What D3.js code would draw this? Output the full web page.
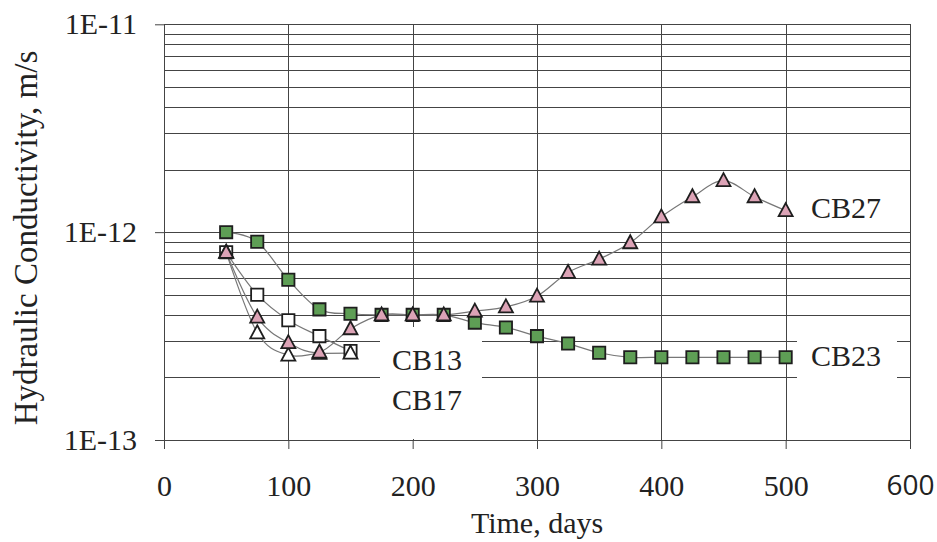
<!DOCTYPE html>
<html>
<head>
<meta charset="utf-8">
<script src="https://cdn.jsdelivr.net/npm/d3@7/dist/d3.min.js"></script>
<style>
  html, body { margin: 0; padding: 0; background: #ffffff; }
  svg { display: block; }
  text { font-family: "Liberation Serif", "Times New Roman", serif; fill: #222222; }
</style>
</head>
<body>
<svg id="chart" width="937" height="542"></svg>
<script>
// Hydraulic conductivity (in units of 1E-12 m/s) against time in days
const unit = 1e-12;
const daysLong = [50, 75, 100, 125, 150, 175, 200, 225, 250, 275, 300, 325, 350, 375, 400, 425, 450, 475, 500];
const daysShort = [50, 75, 100, 125, 150];
const cb23 = [1.0, 0.9, 0.59, 0.425, 0.405, 0.40, 0.40, 0.40, 0.367, 0.348, 0.316, 0.291, 0.263, 0.25, 0.25, 0.25, 0.25, 0.25, 0.25];
const cb27 = [0.8, 0.39, 0.294, 0.265, 0.343, 0.40, 0.40, 0.40, 0.417, 0.437, 0.492, 0.64, 0.742, 0.889, 1.185, 1.48, 1.77, 1.48, 1.27];
const cb13 = [0.8, 0.5, 0.377, 0.316, 0.268];
const cb17 = [0.8, 0.328, 0.256, 0.261, 0.262];

const xTicks = [0, 100, 200, 300, 400, 500, 600];
const yTicks = [1e-13, 1e-12, 1e-11];
const yTickLabels = ["1E-13", "1E-12", "1E-11"];

const svg = d3.select("#chart");
const x = d3.scaleLinear().domain([0, 600]).range([164, 910]);
const y = d3.scaleLog().domain([1e-13, 1e-11]).range([440, 24.3]);

const gridColor = "#444444";

// horizontal grid: every 1..9 multiple in each decade
const grid = svg.append("g").attr("shape-rendering", "crispEdges");
grid.selectAll("line.h")
  .data(y.ticks())
  .join("line")
  .attr("class", "h")
  .attr("x1", x(0)).attr("x2", x(600))
  .attr("y1", d => Math.round(y(d)) + 0.5).attr("y2", d => Math.round(y(d)) + 0.5)
  .attr("stroke", gridColor).attr("stroke-width", 1);

// vertical grid
grid.selectAll("line.v")
  .data(xTicks.slice(1))
  .join("line")
  .attr("class", "v")
  .attr("x1", d => Math.round(x(d)) + 0.5).attr("x2", d => Math.round(x(d)) + 0.5)
  .attr("y1", y(1e-11)).attr("y2", y(1e-13))
  .attr("stroke", gridColor).attr("stroke-width", 1);

// white panels behind the series names
const panels = [
  { x0: 380, x1: 482, y0: 327, y1: 439 },
  { x0: 797, x1: 897, y0: 330, y1: 395 }
];
svg.append("g").selectAll("rect")
  .data(panels)
  .join("rect")
  .attr("x", d => d.x0).attr("y", d => d.y0)
  .attr("width", d => d.x1 - d.x0).attr("height", d => d.y1 - d.y0)
  .attr("fill", "#ffffff");

// axes
const xAxis = d3.axisBottom(x).tickValues(xTicks).tickSize(9).tickPadding(26).tickFormat(d3.format("d"));
const gx = svg.append("g").attr("transform", `translate(0,${y(1e-13)})`).call(xAxis);
gx.select(".domain").attr("stroke", gridColor).attr("d", `M${x(0)},0.5H${x(600)}`);
gx.selectAll(".tick line").attr("stroke", gridColor);
gx.selectAll(".tick text")
  .style("font-family", d => d === 600 ? "'Open Sans', sans-serif" : null)
  .attr("font-size", d => d === 600 ? 28 : 30)
  .attr("fill", "#222222");

const yAxis = d3.axisLeft(y).tickValues(yTicks).tickSize(9).tickPadding(18)
  .tickFormat((d, i) => yTickLabels[i]);
const gy = svg.append("g").attr("transform", `translate(${x(0)},0)`).call(yAxis);
gy.select(".domain").attr("stroke", gridColor).attr("d", `M0.5,${y(1e-11)}V${y(1e-13)}`);
gy.selectAll(".tick line").attr("stroke", gridColor);
gy.selectAll(".tick text").attr("font-size", 30).attr("fill", "#222222");

// series
const line = d3.line()
  .x(d => x(d[0]))
  .y(d => y(d[1] * unit))
  .curve(d3.curveCatmullRom.alpha(0));

const series = [
  { name: "CB13", days: daysShort, vals: cb13, shape: "square", fill: "#ffffff" },
  { name: "CB17", days: daysShort, vals: cb17, shape: "triangle", fill: "#ffffff" },
  { name: "CB23", days: daysLong, vals: cb23, shape: "square", fill: "#5e9e55" },
  { name: "CB27", days: daysLong, vals: cb27, shape: "triangle", fill: "#dca3b6" }
];

const sq = d3.symbol().type(d3.symbolSquare).size(150)();
const tri = "M0,-7.5L7,5.5L-7,5.5Z";

series.forEach(s => {
  const pts = s.days.map((d, i) => [d, s.vals[i]]);
  svg.append("path")
    .datum(pts)
    .attr("d", line)
    .attr("fill", "none")
    .attr("stroke", "#777777")
    .attr("stroke-width", 1.2);
});

series.forEach(s => {
  const pts = s.days.map((d, i) => [d, s.vals[i]]);
  svg.append("g").selectAll("path")
    .data(pts)
    .join("path")
    .attr("transform", d => `translate(${x(d[0])},${y(d[1] * unit)})`)
    .attr("d", s.shape === "square" ? sq : tri)
    .attr("fill", s.fill)
    .attr("stroke", "#1e1e1e")
    .attr("stroke-width", 1.8)
    .attr("stroke-linejoin", "miter");
});

// series names
const names = [
  { text: "CB27", x: 811, y: 218 },
  { text: "CB13", x: 392, y: 370 },
  { text: "CB17", x: 392, y: 410 },
  { text: "CB23", x: 811, y: 366 }
];
svg.append("g").selectAll("text")
  .data(names)
  .join("text")
  .attr("x", d => d.x).attr("y", d => d.y)
  .attr("font-size", 30)
  .text(d => d.text);

// axis titles
svg.append("text")
  .attr("x", x(300)).attr("y", 533)
  .attr("text-anchor", "middle")
  .attr("font-size", 30)
  .text("Time, days");

svg.append("text")
  .attr("transform", "translate(37,238) rotate(-90)")
  .attr("text-anchor", "middle")
  .attr("font-size", 33)
  .text("Hydraulic Conductivity, m/s");
</script>
</body>
</html>
